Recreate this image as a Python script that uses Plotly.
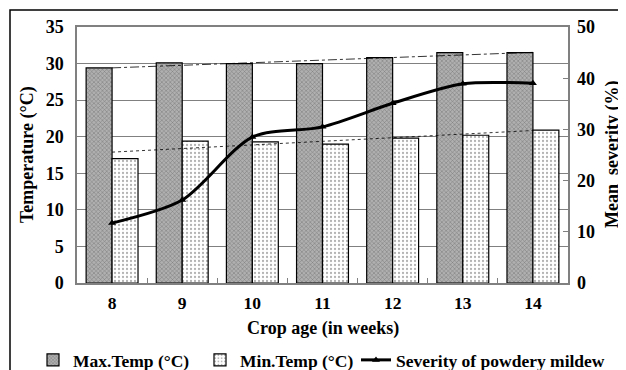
import numpy as np
import plotly.graph_objects as go

weeks = ["8", "9", "10", "11", "12", "13", "14"]
max_temp = [29.4, 30.1, 30.0, 30.0, 30.8, 31.5, 31.5]
min_temp = [17.0, 19.4, 19.3, 19.0, 19.8, 20.2, 20.9]
severity = [11.7, 16.2, 28.5, 30.5, 35.1, 38.9, 39.0]

xi = np.arange(len(weeks))
trend_max = np.polyval(np.polyfit(xi, max_temp, 1), xi)
trend_min = np.polyval(np.polyfit(xi, min_temp, 1), xi)

FONT = "Liberation Serif"
OFF = 8  # page body margin
W, H = 626 - OFF, 370 - OFF
L, T = 77 - OFF, 27 - OFF
R = W - (568 - OFF)
B = H - (283 - OFF)

fig = go.Figure()
fig.add_trace(go.Bar(
    x=weeks, y=max_temp, name="Max.Temp (°C)",
    marker=dict(color="#8c8c8c", line=dict(color="black", width=1.2),
                pattern=dict(shape="x", fgcolor="#3c3c3c", bgcolor="#b0b0b0", size=3, solidity=0.3)),
))
fig.add_trace(go.Bar(
    x=weeks, y=min_temp, name="Min.Temp (°C)",
    marker=dict(color="white", line=dict(color="black", width=1.2),
                pattern=dict(shape=".", fgcolor="#666666", bgcolor="white", size=4, solidity=0.25)),
))
fig.add_trace(go.Scatter(
    x=weeks, y=trend_max, mode="lines", showlegend=False,
    line=dict(color="black", width=0.8, dash="dashdot"), hoverinfo="skip",
))
fig.add_trace(go.Scatter(
    x=weeks, y=trend_min, mode="lines", showlegend=False,
    line=dict(color="black", width=0.8, dash="dot"), hoverinfo="skip",
))
fig.add_trace(go.Scatter(
    x=weeks, y=severity, name="Severity of powdery mildew", yaxis="y2", legend="legend2",
    mode="lines+markers", line=dict(color="black", width=3, shape="spline", smoothing=0.8),
    marker=dict(symbol="triangle-up", size=7, color="black"),
))

pw = W - L - R
ph = H - T - B

def px_x(p):  # screen px -> paper
    return (p - OFF - L) / pw

def px_y(p):
    return (H - B - (p - OFF)) / ph

legfont = dict(family=FONT, size=17.5, weight="bold")

fig.update_layout(
    width=W, height=H,
    margin=dict(l=L, r=R, t=T, b=B, autoexpand=False),
    paper_bgcolor="white", plot_bgcolor="white",
    font=dict(family=FONT, size=17, color="black", weight="bold"),
    barmode="group", bargap=0.26, bargroupgap=0,
    showlegend=True,
    legend=dict(orientation="h", xref="paper", yref="paper",
                x=px_x(33), xanchor="left", y=px_y(360), yanchor="middle",
                font=legfont, entrywidth=122, entrywidthmode="pixels",
                itemwidth=30, tracegroupgap=0, bgcolor="rgba(0,0,0,0)"),
    legend2=dict(orientation="h", xref="paper", yref="paper",
                 x=px_x(356), xanchor="left", y=px_y(360), yanchor="middle",
                 font=legfont, itemwidth=30, tracegroupgap=0, bgcolor="rgba(0,0,0,0)"),
    xaxis=dict(
        showline=True, linecolor="#808080", linewidth=1.5, mirror=True, automargin=False,
        ticks="inside", tickson="boundaries", ticklen=5, tickcolor="#808080",
        ticklabelstandoff=3,
        tickfont=dict(family=FONT, size=17.5, weight="bold"),
    ),
    yaxis=dict(
        range=[0, 35], dtick=5, showgrid=True, gridcolor="#808080", gridwidth=1,
        showline=True, linecolor="#808080", linewidth=1.5, mirror=True, automargin=False,
        ticks="", ticklabelstandoff=8, tickfont=dict(family=FONT, size=18, weight="bold"),
        zeroline=False,
    ),
    yaxis2=dict(
        range=[0, 50], dtick=10, overlaying="y", side="right", showgrid=False, automargin=False,
        ticks="inside", ticklen=5, tickcolor="#808080", zeroline=False, ticklabelstandoff=8,
        tickfont=dict(family=FONT, size=18, weight="bold"),
    ),
    annotations=[
        dict(text="Crop age (in weeks)", xref="paper", yref="paper", x=0.5, y=px_y(328),
             showarrow=False, xanchor="center", yanchor="middle",
             font=dict(family=FONT, size=18, weight="bold")),
        dict(text="Temperature (°C)", xref="paper", yref="paper", x=px_x(27), y=0.5,
             showarrow=False, textangle=-90, xanchor="center", yanchor="middle",
             font=dict(family=FONT, size=18, weight="bold")),
        dict(text="Mean  severity (%)", xref="paper", yref="paper", x=px_x(612), y=0.5,
             showarrow=False, textangle=-90, xanchor="center", yanchor="middle",
             font=dict(family=FONT, size=18, weight="bold")),
    ],
    shapes=[dict(type="rect", xref="paper", yref="paper",
                 x0=px_x(10), x1=px_x(640), y0=px_y(385), y1=px_y(10),
                 line=dict(color="black", width=1.5), fillcolor="rgba(0,0,0,0)", layer="below")],
)

fig.write_html("out.html")
